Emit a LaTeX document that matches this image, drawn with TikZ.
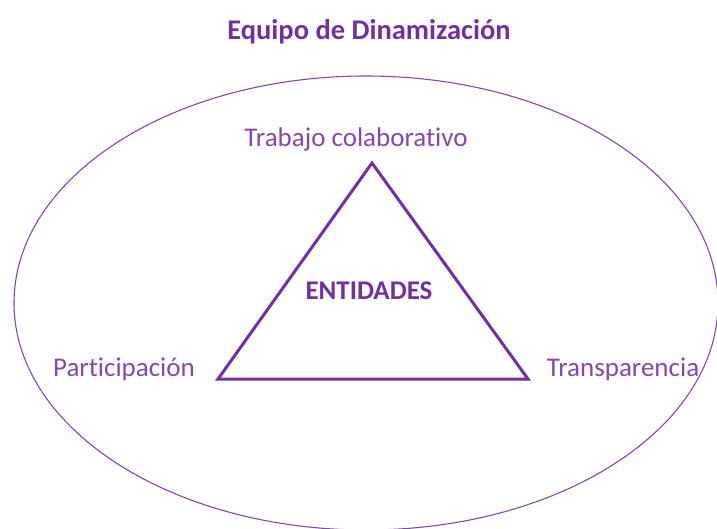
\documentclass[tikz,border=0pt]{standalone}
\usepackage{fontspec}
\setmainfont[Ligatures={NoCommon}]{Carlito}
\definecolor{morado}{HTML}{7030A0}
\definecolor{moradoclaro}{HTML}{8447B0}
\begin{document}
\begin{tikzpicture}
            [x=1pt,y=-1pt,every node/.style={text=moradoclaro,font=\fontsize{27}{29}\selectfont},
             titulo/.style={text=morado,font=\fontsize{28.5}{30}\selectfont\bfseries}]
            \useasboundingbox (0,0) rectangle (717,529);
            \clip (0,0) rectangle (717,529);
            \node[titulo] (titulo) at (369,32) {Equipo de Dinamización};
            \draw[moradoclaro,line width=1.1pt] (366,303) ellipse [x radius=352,y radius=227];
            \coordinate (arriba) at (372,163);
            \coordinate (izq) at (218,379);
            \coordinate (der) at (528,379);
            \draw[morado,line width=3pt,line join=miter] (arriba) -- (izq) -- (der) -- cycle;
            \node[titulo,font=\fontsize{27}{29}\selectfont\bfseries] (entidades) at (369,291) {ENTIDADES};
            \node (trabajo) at (356,139) {Trabajo colaborativo};
            \node (particip) at (124,369) {Participación};
            \node (transp) at (623,369) {Transparencia};
        \end{tikzpicture}
\end{document}
